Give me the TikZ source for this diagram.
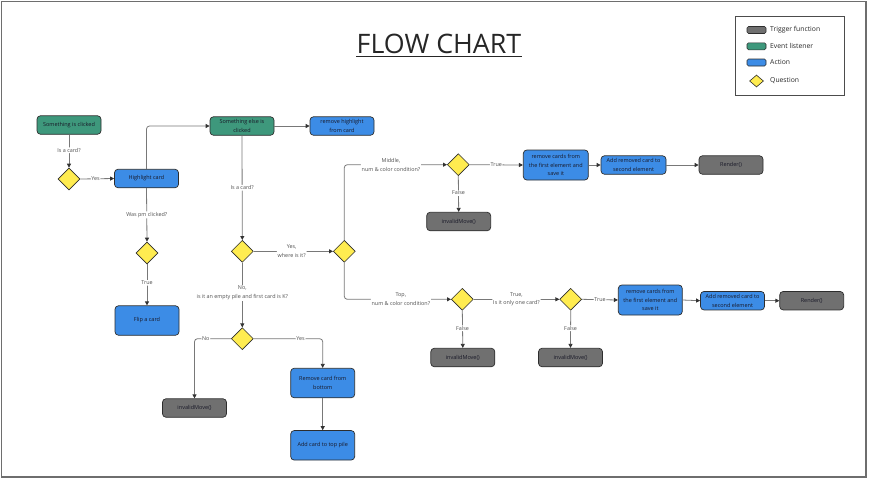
\documentclass[tikz,border=0pt]{standalone}
\usepackage{fontspec}
\setmainfont{Open Sans}
\usetikzlibrary{shapes.geometric,arrows.meta}

\definecolor{evgreen}{RGB}{62,152,124}
\definecolor{actblue}{RGB}{60,140,230}
\definecolor{triggray}{RGB}{112,112,112}
\definecolor{qyellow}{RGB}{255,236,80}
\definecolor{boxline}{RGB}{45,45,45}
\definecolor{boxtext}{RGB}{25,25,40}
\definecolor{linegray}{RGB}{120,120,120}
\definecolor{tipdark}{RGB}{50,50,50}
\definecolor{lbltext}{RGB}{80,80,80}
\definecolor{framegray}{RGB}{110,110,110}

\newcommand\bxfont{\fontsize{5.5}{8.6}\selectfont}
\newcommand\lbfont{\fontsize{5.4}{8.8}\selectfont}
\newcommand\lgfont{\fontsize{6.8}{8}\selectfont}

\begin{document}
\begin{tikzpicture}[x=1pt,y=-1pt,
  box/.style={rectangle, rounded corners=3.5pt, draw=boxline, line width=0.7pt,
    align=center, inner sep=1pt, font=\bxfont, text=boxtext,
    minimum width=64pt, minimum height=18.5pt},
  trigger/.style={box, fill=triggray},
  listener/.style={box, fill=evgreen},
  action/.style={box, fill=actblue},
  tall/.style={minimum height=29.5pt},
  question/.style={diamond, draw=boxline, fill=qyellow, line width=0.6pt,
    minimum width=22pt, minimum height=22pt, inner sep=0pt},
  flow/.style={draw=linegray, line width=0.8pt, rounded corners=3pt,
    -{Triangle[length=4pt,width=4pt,color=tipdark]}},
  lbl/.style={font=\lbfont, text=lbltext, fill=white, inner sep=0.8pt, align=center},
  swatch/.style={rectangle, rounded corners=1.5pt, draw=boxline, line width=0.6pt,
    minimum width=19pt, minimum height=7pt, inner sep=0pt},
  legtext/.style={font=\lgfont, text=black!85, anchor=west, inner sep=0pt}
]
\useasboundingbox (0,0) rectangle (869,480);

% page frame
\draw[draw=framegray, line width=1.6pt] (1.5,1.5) rectangle (866,477);

% title
\node[font=\fontsize{26.8}{32}\selectfont, text=black!85, inner sep=0pt] (title) at (439,44) {FLOW CHART};
\draw[black!85, line width=1pt] (title.south west |- 0,56) -- (title.south east |- 0,56);

% legend
\node[draw=black!70, line width=0.6pt, minimum width=109pt, minimum height=79pt, inner sep=0pt] (legend) at (789.5,55.5) {};
\node[swatch, fill=triggray] (lg1) at (756.5,30) {};
\node[legtext] (lt1) at (770,30) {Trigger function};
\node[swatch, fill=evgreen] (lg2) at (756.5,46.3) {};
\node[legtext] (lt2) at (770,46.3) {Event listener};
\node[swatch, fill=actblue] (lg3) at (756.5,62.5) {};
\node[legtext] (lt3) at (770,62) {Action};
\node[diamond, draw=boxline, fill=qyellow, line width=0.6pt, minimum width=14pt, minimum height=12pt, inner sep=0pt] (lg4) at (756.5,81) {};
\node[legtext] (lt4) at (770,80.5) {Question};

% nodes
\node[listener] (click) at (69,125) {Something is clicked};
\node[question] (d1) at (69,179) {};
\node[action] (hl) at (146.5,178.5) {Highlight card};
\node[question] (d2) at (147,253) {};
\node[action, tall] (flip) at (147,320.5) {Flip a card};

\node[listener] (click2) at (242,126) {Something else is\\clicked};
\node[action] (rmhl) at (342,126) {remove highlight\\from card};
\node[question] (d3) at (242.3,251.3) {};
\node[question] (d4) at (242.3,338.7) {};
\node[trigger] (inv1) at (194.5,408) {invalidMove()};
\node[action, tall] (rmb) at (322.7,383) {Remove card from\\bottom};
\node[action, tall] (addtop) at (322.7,445.3) {Add card to top pile};

\node[question] (d5) at (344.3,251.3) {};
\node[question] (d6) at (458.3,164.7) {};
\node[trigger] (inv2) at (458.7,221.5) {invalidMove()};
\node[action, minimum width=65pt, minimum height=30pt] (rm1) at (555.8,165) {remove cards from\\the first element and\\save it};
\node[action, minimum width=65pt] (add1) at (633.5,165) {Add removed card to\\second element};
\node[trigger] (ren1) at (731,165) {Render()};

\node[question] (d7) at (462.3,299.3) {};
\node[question] (d8) at (570.7,299.3) {};
\node[trigger] (inv3) at (462.8,357.5) {invalidMove()};
\node[trigger] (inv4) at (570.5,357.5) {invalidMove()};
\node[action, minimum height=30pt] (rm2) at (650.3,300) {remove cards from\\the first element and\\save it};
\node[action] (add2) at (732.5,300.7) {Add removed card to\\second element};
\node[trigger] (ren2) at (811.7,300.7) {Render()};

% connectors
\draw[flow] (click.south) -- node[lbl, pos=0.47] (e1) {Is a card?} (d1.north);
\draw[flow] (d1.east) -- node[lbl, pos=0.45] (e2) {Yes} (hl.west);
\draw[flow] (hl.north) |- (click2.west);
\draw[flow] (hl.south) -- node[lbl] (e3) {Was pm clicked?} (d2.north);
\draw[flow] (d2.south) -- node[lbl, pos=0.45] (e4) {True} (flip.north);

\draw[flow] (click2.east) -- (rmhl.west);
\draw[flow] (click2.south) -- node[lbl] (e5) {Is a card?} (d3.north);
\draw[flow] (d3.east) -- node[lbl, pos=0.48] (e6) {Yes,\\where is it?} (d5.west);
\draw[flow] (d3.south) -- node[lbl, pos=0.47] (e7) {No,\\is it an empty pile and first card is K?} (d4.north);
\draw[flow] (d4.west) -| node[lbl, pos=0.345] (e8) {No} (inv1.north);
\draw[flow] (d4.east) -| node[lbl, pos=0.34] (e9) {Yes} (rmb.north);
\draw[flow] (rmb.south) -- (addtop.north);

\draw[flow] (d5.north) |- node[lbl, pos=0.727] (e10) {Middle,\\num \& color condition?} (d6.west);
\draw[flow] (d5.south) |- node[lbl, pos=0.765] (e11) {Top,\\num \& color condition?} (d7.west);
\draw[flow] (d6.east) -- node[lbl] (e12) {True} (rm1.west);
\draw[flow] (d6.south) -- node[lbl, pos=0.47] (e13) {False} (inv2.north);
\draw[flow] (rm1.east) -- (add1.west);
\draw[flow] (add1.east) -- (ren1.west);

\draw[flow] (d7.east) -- node[lbl] (e14) {True,\\Is it only one card?} (d8.west);
\draw[flow] (d7.south) -- node[lbl, pos=0.47] (e15) {False} (inv3.north);
\draw[flow] (d8.south) -- node[lbl, pos=0.47] (e16) {False} (inv4.north);
\draw[flow] (d8.east) -- node[lbl] (e17) {True} (rm2.west);
\draw[flow] (rm2.east) -- (add2.west);
\draw[flow] (add2.east) -- (ren2.west);
\end{tikzpicture}
\end{document}
